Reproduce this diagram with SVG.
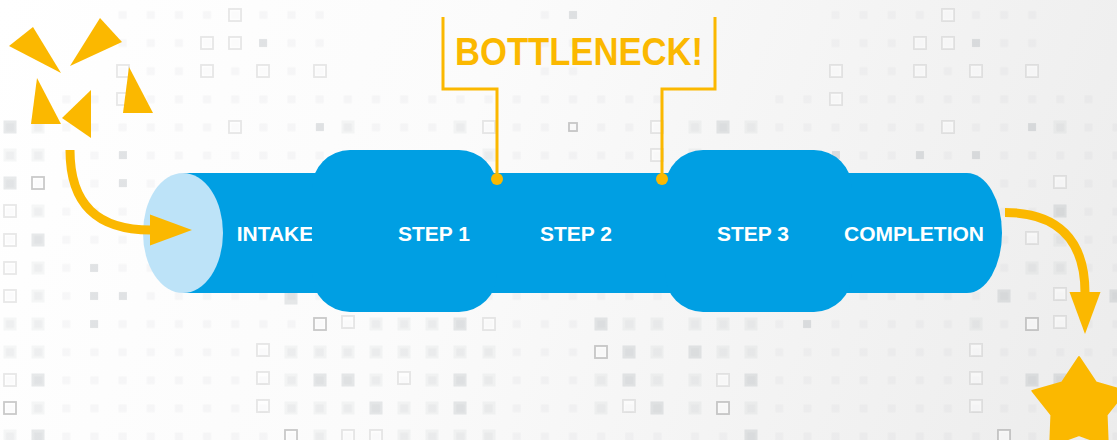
<svg xmlns="http://www.w3.org/2000/svg" width="1117" height="440" viewBox="0 0 1117 440">
<style>
.s{fill:#7d8a92;fill-opacity:.06}
.L{fill:#7d8a92;fill-opacity:.07}
.D{fill:#7d8a92;fill-opacity:.18}
.d{fill:#7d8a92;fill-opacity:.18}
.o{fill:#ffffff;fill-opacity:.5;stroke:#8a8a8a;stroke-opacity:.2;stroke-width:1.8}
.O{fill:#ffffff;fill-opacity:.5;stroke:#808080;stroke-opacity:.42;stroke-width:1.8}
.pipe{fill:#009FE3}
.cap{fill:#BDE3F8}
.lbl{font-family:"Liberation Sans",Arial,sans-serif;font-weight:bold;font-size:21px;fill:#ffffff;text-anchor:middle}
.bn{font-family:"Liberation Sans",Arial,sans-serif;font-weight:bold;font-size:38px;fill:#FBB800}
.y{fill:#FBB800}
.ln{fill:none;stroke:#FBB800;stroke-width:3}
.arr{fill:none;stroke:#FBB800;stroke-width:9}
</style>
<defs>
<linearGradient id="bg" gradientUnits="userSpaceOnUse" x1="0" y1="0" x2="1117" y2="440">
<stop offset="0" stop-color="#ffffff"/>
<stop offset="0.4" stop-color="#fbfbfb"/>
<stop offset="1" stop-color="#ececec"/>
</linearGradient>
<pattern id="gl" patternUnits="userSpaceOnUse" x="-4.075" y="0.95" width="28.15" height="28.1"><rect x="10.075" y="10.05" width="8" height="8" class="s"/></pattern>
<pattern id="gr" patternUnits="userSpaceOnUse" x="680.95" y="0.95" width="28.1" height="28.1"><rect x="10.05" y="10.05" width="8" height="8" class="s"/></pattern>
<rect id="q13" x="-6.5" y="-6.5" width="13" height="13"/>
<rect id="q12" x="-6" y="-6" width="12" height="12"/>
<rect id="q8" x="-4" y="-4" width="8" height="8"/>
<marker id="head" markerUnits="userSpaceOnUse" markerWidth="44" markerHeight="32" refX="1" refY="15.5" orient="auto" overflow="visible">
<path d="M0,0 L42,15.5 L0,31 Z" class="y"/>
</marker>
</defs>

<g id="background">
<rect x="0" y="0" width="1117" height="440" fill="url(#bg)"/>
<rect x="108.5" y="0" width="225.2" height="85.25" fill="url(#gl)"/>
<rect x="530.8" y="0" width="56.3" height="85.25" fill="url(#gl)"/>
<rect x="52.2" y="85.25" width="619.3" height="28.1" fill="url(#gl)"/>
<rect x="0" y="113.35" width="671.5" height="326.65" fill="url(#gl)"/>
<rect x="765.25" y="85.25" width="337.2" height="28.1" fill="url(#gr)"/>
<rect x="680.95" y="113.35" width="436.05" height="326.65" fill="url(#gr)"/>
<rect x="821.45" y="0" width="224.8" height="85.25" fill="url(#gr)"/>

<use href="#q12" class="o" x="123" y="71"/><use href="#q12" class="o" x="123" y="99"/>
<use href="#q12" class="o" x="235" y="15"/><use href="#q12" class="o" x="207" y="43"/>
<use href="#q12" class="o" x="235" y="43"/><use href="#q12" class="o" x="207" y="71"/>
<use href="#q12" class="o" x="263" y="71"/><use href="#q12" class="o" x="320" y="71"/>
<use href="#q12" class="o" x="235" y="127"/><use href="#q12" class="o" x="489" y="127"/>
<use href="#q12" class="o" x="657" y="127"/><use href="#q12" class="o" x="657" y="155"/>
<use href="#q12" class="o" x="10" y="211"/><use href="#q12" class="o" x="10" y="240"/>
<use href="#q12" class="o" x="10" y="268"/><use href="#q12" class="o" x="10" y="296"/>
<use href="#q12" class="o" x="10" y="380"/><use href="#q12" class="o" x="348" y="322"/>
<use href="#q12" class="o" x="263" y="350"/><use href="#q12" class="o" x="263" y="378"/>
<use href="#q12" class="o" x="263" y="406"/><use href="#q12" class="o" x="376" y="436"/>
<use href="#q12" class="o" x="348" y="436"/><use href="#q12" class="o" x="404" y="378"/>
<use href="#q12" class="o" x="489" y="324"/><use href="#q12" class="o" x="723" y="380"/>
<use href="#q12" class="o" x="629" y="406"/><use href="#q12" class="o" x="976" y="350"/>
<use href="#q12" class="o" x="976" y="378"/><use href="#q12" class="o" x="976" y="406"/>
<use href="#q12" class="o" x="1060" y="322"/><use href="#q12" class="o" x="1060" y="182"/>
<use href="#q12" class="o" x="1032" y="238"/><use href="#q12" class="o" x="1060" y="294"/>
<use href="#q12" class="o" x="948" y="15"/><use href="#q12" class="o" x="920" y="43"/>
<use href="#q12" class="o" x="948" y="43"/><use href="#q12" class="o" x="836" y="71"/>
<use href="#q12" class="o" x="920" y="71"/><use href="#q12" class="o" x="976" y="71"/>
<use href="#q12" class="o" x="1032" y="71"/><use href="#q12" class="o" x="836" y="99"/>
<use href="#q12" class="o" x="948" y="127"/>

<use href="#q12" class="O" x="38" y="183"/><use href="#q12" class="O" x="10" y="408"/>
<use href="#q12" class="O" x="320" y="324"/><use href="#q12" class="O" x="291" y="436"/>
<use href="#q12" class="O" x="601" y="352"/><use href="#q12" class="O" x="723" y="408"/>
<use href="#q12" class="O" x="1032" y="324"/><use href="#q12" class="O" x="1004" y="436"/>
<use href="#q8" class="O" x="573" y="127"/>

<use href="#q13" class="D" x="10" y="127"/><use href="#q13" class="D" x="10" y="183"/>
<use href="#q13" class="D" x="38" y="240"/><use href="#q13" class="D" x="38" y="380"/>
<use href="#q13" class="D" x="38" y="436"/><use href="#q13" class="D" x="291" y="298"/>
<use href="#q13" class="D" x="320" y="380"/><use href="#q13" class="D" x="348" y="380"/>
<use href="#q13" class="D" x="376" y="408"/><use href="#q13" class="D" x="460" y="324"/>
<use href="#q13" class="D" x="601" y="324"/><use href="#q13" class="D" x="629" y="352"/>
<use href="#q13" class="D" x="695" y="352"/><use href="#q13" class="D" x="460" y="380"/>
<use href="#q13" class="D" x="629" y="380"/><use href="#q13" class="D" x="751" y="380"/>
<use href="#q13" class="D" x="460" y="408"/><use href="#q13" class="D" x="657" y="408"/>
<use href="#q13" class="D" x="751" y="436"/><use href="#q13" class="D" x="723" y="127"/>
<use href="#q13" class="D" x="1032" y="380"/><use href="#q13" class="D" x="1060" y="380"/>
<use href="#q13" class="D" x="1060" y="211"/><use href="#q13" class="D" x="1004" y="296"/>
<use href="#q13" class="D" x="1116" y="296"/>

<use href="#q8" class="d" x="263" y="43"/><use href="#q8" class="d" x="320" y="127"/>
<use href="#q8" class="d" x="123" y="155"/><use href="#q8" class="d" x="123" y="183"/>
<use href="#q8" class="d" x="94" y="268"/><use href="#q8" class="d" x="94" y="296"/>
<use href="#q8" class="d" x="123" y="296"/><use href="#q8" class="d" x="94" y="324"/>
<use href="#q8" class="d" x="807" y="324"/><use href="#q8" class="d" x="976" y="43"/>
<use href="#q8" class="d" x="1032" y="127"/><use href="#q8" class="d" x="920" y="155"/>
<use href="#q8" class="d" x="976" y="155"/><use href="#q8" class="d" x="836" y="155"/>
<use href="#q8" class="d" x="573" y="15"/>

<use href="#q13" class="L" x="38" y="127"/><use href="#q13" class="L" x="10" y="155"/>
<use href="#q13" class="L" x="38" y="155"/><use href="#q13" class="L" x="38" y="211"/>
<use href="#q13" class="L" x="38" y="268"/><use href="#q13" class="L" x="38" y="296"/>
<use href="#q13" class="L" x="10" y="324"/><use href="#q13" class="L" x="38" y="324"/>
<use href="#q13" class="L" x="10" y="352"/><use href="#q13" class="L" x="38" y="352"/>
<use href="#q13" class="L" x="38" y="408"/><use href="#q13" class="L" x="10" y="436"/>
<use href="#q13" class="L" x="348" y="127"/><use href="#q13" class="L" x="460" y="127"/>
<use href="#q13" class="L" x="489" y="155"/><use href="#q13" class="L" x="695" y="127"/>
<use href="#q13" class="L" x="695" y="155"/><use href="#q13" class="L" x="751" y="127"/>
<use href="#q13" class="L" x="376" y="324"/><use href="#q13" class="L" x="291" y="352"/>
<use href="#q13" class="L" x="320" y="352"/><use href="#q13" class="L" x="348" y="352"/>
<use href="#q13" class="L" x="376" y="352"/><use href="#q13" class="L" x="291" y="380"/>
<use href="#q13" class="L" x="376" y="380"/><use href="#q13" class="L" x="291" y="408"/>
<use href="#q13" class="L" x="320" y="408"/><use href="#q13" class="L" x="348" y="408"/>
<use href="#q13" class="L" x="320" y="436"/><use href="#q13" class="L" x="404" y="324"/>
<use href="#q13" class="L" x="432" y="324"/><use href="#q13" class="L" x="629" y="324"/>
<use href="#q13" class="L" x="657" y="324"/><use href="#q13" class="L" x="695" y="324"/>
<use href="#q13" class="L" x="723" y="324"/><use href="#q13" class="L" x="751" y="324"/>
<use href="#q13" class="L" x="404" y="352"/><use href="#q13" class="L" x="432" y="352"/>
<use href="#q13" class="L" x="460" y="352"/><use href="#q13" class="L" x="489" y="352"/>
<use href="#q13" class="L" x="657" y="352"/><use href="#q13" class="L" x="723" y="352"/>
<use href="#q13" class="L" x="751" y="352"/><use href="#q13" class="L" x="432" y="380"/>
<use href="#q13" class="L" x="489" y="380"/><use href="#q13" class="L" x="601" y="380"/>
<use href="#q13" class="L" x="657" y="380"/><use href="#q13" class="L" x="695" y="380"/>
<use href="#q13" class="L" x="404" y="408"/><use href="#q13" class="L" x="432" y="408"/>
<use href="#q13" class="L" x="489" y="408"/><use href="#q13" class="L" x="601" y="408"/>
<use href="#q13" class="L" x="695" y="408"/><use href="#q13" class="L" x="751" y="408"/>
<use href="#q13" class="L" x="404" y="436"/><use href="#q13" class="L" x="432" y="436"/>
<use href="#q13" class="L" x="460" y="436"/><use href="#q13" class="L" x="489" y="436"/>
<use href="#q13" class="L" x="976" y="324"/><use href="#q13" class="L" x="1060" y="240"/>
<use href="#q13" class="L" x="1032" y="268"/><use href="#q13" class="L" x="1060" y="268"/>
<use href="#q13" class="L" x="1060" y="127"/>
</g>

<g id="decor">
<polygon class="y" points="9,46 33,27 61,73"/>
<polygon class="y" points="70,66 100,18 122,42"/>
<polygon class="y" points="37,78 31,124 61,124"/>
<polygon class="y" points="62,118 91,90 91,138"/>
<polygon class="y" points="129,67 123,113 153,113"/>
</g>

<g id="pipe">
<path class="pipe" d="M183,173 H967 A35,60 0 0 1 967,293 H183 Z"/>
</g>

<g id="intake">
<ellipse class="cap" cx="183" cy="233" rx="40" ry="60"/>
<text class="lbl" x="275" y="241">INTAKE</text>
</g>

<g id="step1">
<rect class="pipe" x="312" y="150" width="185" height="162" rx="38" ry="38"/>
<text class="lbl" x="434" y="241">STEP 1</text>
</g>

<g id="step2">
<text class="lbl" x="576" y="241">STEP 2</text>
</g>

<g id="step3">
<rect class="pipe" x="665" y="150" width="187" height="162" rx="38" ry="38"/>
<text class="lbl" x="753" y="241">STEP 3</text>
</g>

<g id="completion">
<text class="lbl" x="914" y="241">COMPLETION</text>
</g>

<g id="bottleneck">
<text class="bn" x="455" y="65" textLength="248" lengthAdjust="spacingAndGlyphs">BOTTLENECK!</text>
</g>

<g id="connectors">
<path class="ln" d="M443,17 V89 H497 V179"/>
<path class="ln" d="M715,17 V89 H662 V179"/>
<circle class="y" cx="497" cy="179" r="6"/>
<circle class="y" cx="662" cy="179" r="6"/>
<path class="arr" d="M70,150 C70,205 98,230 151,230" marker-end="url(#head)"/>
<path class="arr" d="M1005,212.5 C1058,212.5 1085,240 1085,293" marker-end="url(#head)"/>
</g>

<g id="star">
<polygon class="y" stroke="#FBB800" stroke-width="2" stroke-linejoin="round" points="1079,357 1096,382.5 1125.6,390.9 1106.6,415 1107.8,445.6 1079,435 1050.2,445.6 1051.4,415 1032.4,390.9 1062,382.5"/>
</g>
</svg>
